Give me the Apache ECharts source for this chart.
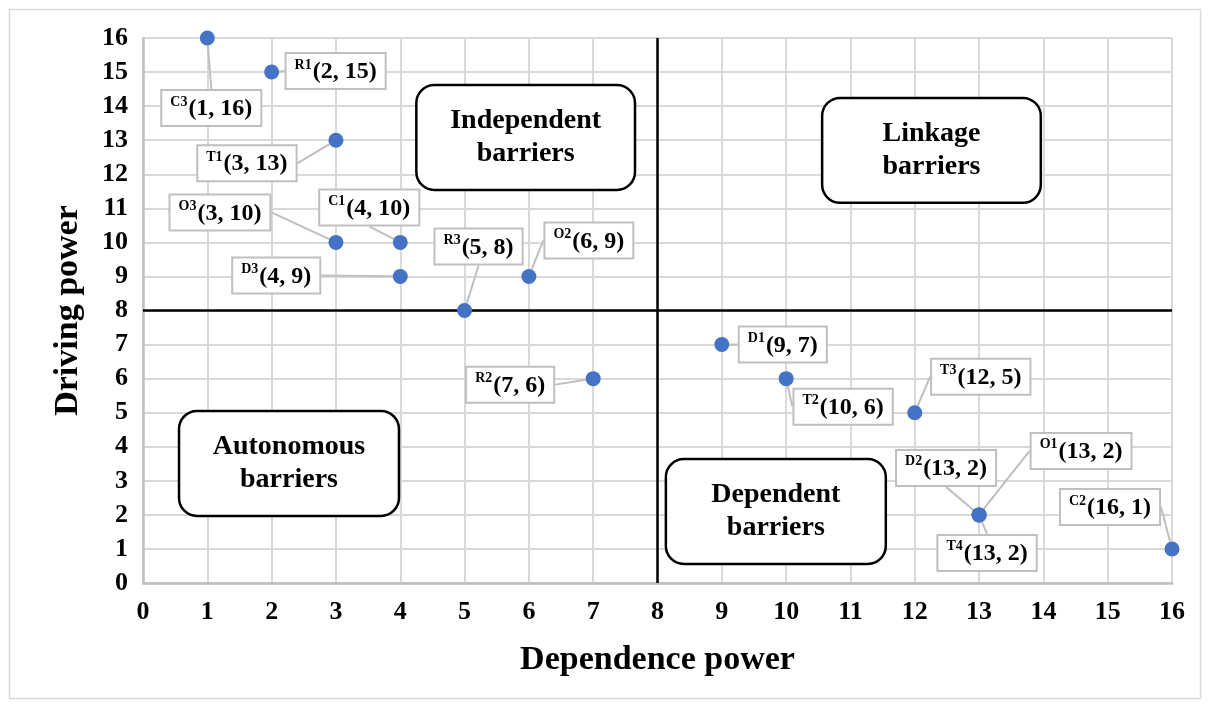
<!DOCTYPE html>
<html><head><meta charset="utf-8">
<script src="https://cdn.jsdelivr.net/npm/echarts@6/dist/echarts.min.js"></script>
<style>html,body{margin:0;padding:0;background:#fff}#c{width:1210px;height:708px}</style>
</head><body><div id="c"></div>
<script>
// ---- data ----
const codes = ['C3','R1','T1','O3','C1','D3','R3','O2','R2','D1','T2','T3','D2','O1','T4','C2'];
const dependence = [1,2,3,3,4,4,5,6,7,9,10,12,13,13,13,16];
const driving    = [16,15,13,10,10,9,8,9,6,7,6,5,2,2,2,1];
const xTicks = [0,1,2,3,4,5,6,7,8,9,10,11,12,13,14,15,16];
const yTicks = [0,1,2,3,4,5,6,7,8,9,10,11,12,13,14,15,16];
const quadrantNames = ['Independent\nbarriers','Linkage\nbarriers','Autonomous\nbarriers','Dependent\nbarriers'];
// box extents in data units [x1, y1, x2, y2]
const quadrantBoxes = [[4.25,14.62,7.65,11.54],[10.56,14.24,13.96,11.16],[0.56,5.05,3.98,1.97],[8.13,3.64,11.55,0.56]];
// label offsets (pixels) for callouts
const labelOffsets = [[4,70],[64,-1],[-89,23],[-116,-30],[-31,-35],[-124,-1],[14,-64],[60,-36],[-83,6],[61,0],[57,28],[66,-36],[-33,-47],[102,-64],[8,38],[-62,-42]];

const FONT = '"Liberation Serif","Times New Roman",serif';
const chart = echarts.init(document.getElementById('c'));
const pts = dependence.map((x,i)=>[x, driving[i]]);

chart.setOption({
  animation:false,
  grid:{left:143,right:38,top:38,bottom:125},
  xAxis:{type:'value',min:0,max:16,interval:1,
    name:'Dependence power',nameLocation:'middle',nameGap:60,
    nameTextStyle:{fontFamily:FONT,fontWeight:'bold',fontSize:34,color:'#000'},
    axisLine:{show:true,lineStyle:{color:'#bfbfbf',width:2.5}},
    axisTick:{show:false},
    axisLabel:{fontFamily:FONT,fontWeight:'bold',fontSize:26,color:'#000',margin:16,
      formatter:v=>xTicks.includes(v)?String(v):''},
    splitLine:{show:true,lineStyle:{color:'#d9d9d9',width:2}}},
  yAxis:{type:'value',min:0,max:16,interval:1,
    name:'Driving power',nameLocation:'middle',nameGap:58,
    nameTextStyle:{fontFamily:FONT,fontWeight:'bold',fontSize:34,color:'#000'},
    axisLine:{show:true,lineStyle:{color:'#bfbfbf',width:2.5}},
    axisTick:{show:false},
    axisLabel:{fontFamily:FONT,fontWeight:'bold',fontSize:26,color:'#000',margin:15,
      formatter:v=>yTicks.includes(v)?String(v):''},
    splitLine:{show:true,lineStyle:{color:'#d9d9d9',width:2}}},
  series:[{
    type:'scatter',data:pts,symbolSize:15,
    itemStyle:{color:'#4472C4',opacity:1},
    z:5,
    label:{show:true,position:'inside',color:'#000',opacity:1,
      formatter:p=>`{s|${codes[p.dataIndex]}}{m|(${p.value[0]}, ${p.value[1]})}`,
      backgroundColor:'#fff',borderColor:'#bfbfbf',borderWidth:2,padding:[4,8,2,8],
      rich:{
        s:{fontFamily:FONT,fontWeight:'bold',fontSize:14,color:'#000',verticalAlign:'top',lineHeight:28,padding:[0,1,0,0]},
        m:{fontFamily:FONT,fontWeight:'bold',fontSize:24,color:'#000',lineHeight:28}
      }},
    labelLine:{show:true,lineStyle:{color:'#bfbfbf',width:2}},
    labelLayout:p=>({dx:labelOffsets[p.dataIndex][0],dy:labelOffsets[p.dataIndex][1]}),
    markLine:{silent:true,symbol:'none',label:{show:false},
      lineStyle:{color:'#000',width:2.5,type:'solid'},
      data:[{xAxis:8},{yAxis:8}]}
  }]
});

const g = [{type:'rect',shape:{x:9.5,y:9.5,width:1191,height:689},style:{fill:'none',stroke:'#d9d9d9',lineWidth:1.5},z:0}];
quadrantBoxes.forEach((b,i)=>{
  const p1 = chart.convertToPixel({gridIndex:0},[b[0],b[1]]);
  const p2 = chart.convertToPixel({gridIndex:0},[b[2],b[3]]);
  g.push({type:'rect',z:3,shape:{x:p1[0],y:p1[1],width:p2[0]-p1[0],height:p2[1]-p1[1],r:18},
    style:{fill:'#fff',stroke:'#000',lineWidth:2.5}});
  g.push({type:'text',z:4,x:(p1[0]+p2[0])/2,y:(p1[1]+p2[1])/2,
    style:{text:quadrantNames[i],fontFamily:FONT,fontWeight:'bold',fontSize:28,lineHeight:33,
      fill:'#000',align:'center',verticalAlign:'middle'}});
});
chart.setOption({graphic:g});
</script></body></html>
